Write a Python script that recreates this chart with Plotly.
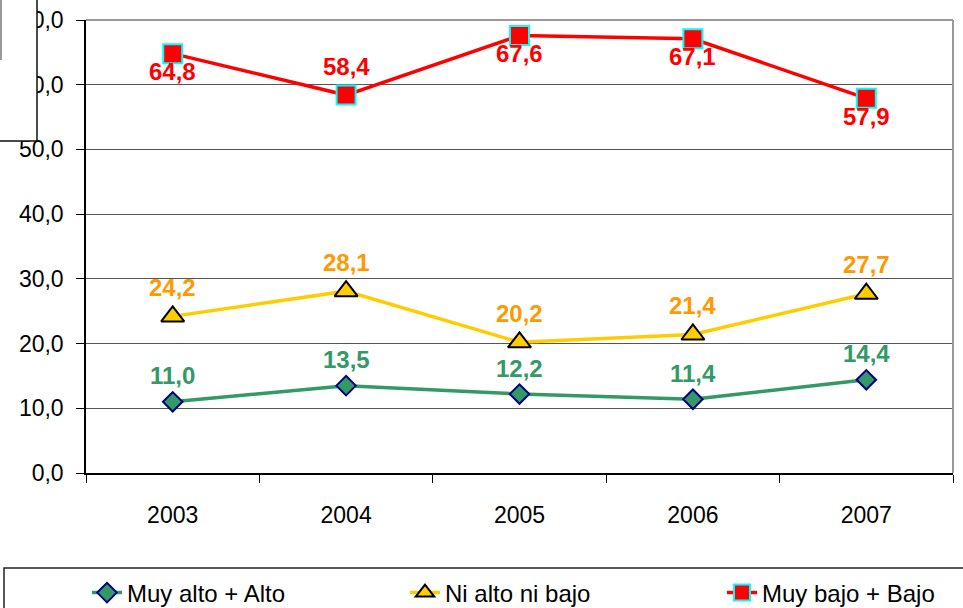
import plotly.graph_objects as go

years = ["2003", "2004", "2005", "2006", "2007"]
muy_alto_alto = [11.0, 13.5, 12.2, 11.4, 14.4]
ni_alto_ni_bajo = [24.2, 28.1, 20.2, 21.4, 27.7]
muy_bajo_bajo = [64.8, 58.4, 67.6, 67.1, 57.9]
red_label_side = ["below", "above", "below", "below", "below"]
y_ticks = [0, 10, 20, 30, 40, 50, 60, 70]
y_ticktext = ["0,0", "10,0", "20,0", "30,0", "40,0", "50,0", "60,0", "70,0"]

FONT = "Liberation Sans, Arial, sans-serif"
GREEN = "#339966"
YELLOW = "#FFCC00"
ORANGE = "#FF9900"
RED = "#FF0000"

L, R, T, B = 86, 10, 20, 135
W, H = 963, 608
pw, ph = W - L - R, H - T - B
def px_x(p):
    return (p - L) / pw
def px_y(p):
    return (H - B - p) / ph

fig = go.Figure()
fig.add_trace(go.Scatter(
    x=years, y=muy_alto_alto, name="Muy alto + Alto", mode="lines+markers",
    line=dict(color=GREEN, width=3.5), legend="legend",
    marker=dict(symbol="diamond", size=15, color=GREEN, line=dict(color="#000080", width=2))))
fig.add_trace(go.Scatter(
    x=years, y=ni_alto_ni_bajo, name="Ni alto ni bajo", mode="lines+markers",
    line=dict(color=YELLOW, width=3.5), legend="legend2",
    marker=dict(symbol="triangle-up", size=20, color=YELLOW, line=dict(color="#000000", width=2))))
fig.add_trace(go.Scatter(
    x=years, y=muy_bajo_bajo, name="Muy bajo + Bajo", mode="lines+markers",
    line=dict(color=RED, width=3.5), legend="legend3",
    marker=dict(symbol="square", size=19, color=RED, line=dict(color="#00FFFF", width=2))))

def fmt(v):
    return f"{v:.1f}".replace(".", ",")

ann = []
for i, v in enumerate(muy_alto_alto):
    ann.append(dict(x=i, y=v, text=fmt(v), showarrow=False, yshift=26,
                    font=dict(family=FONT, size=24, color=GREEN, weight="bold")))
for i, v in enumerate(ni_alto_ni_bajo):
    ann.append(dict(x=i, y=v, text=fmt(v), showarrow=False, yshift=29,
                    font=dict(family=FONT, size=24, color=ORANGE, weight="bold")))
for i, (v, s) in enumerate(zip(muy_bajo_bajo, red_label_side)):
    ann.append(dict(x=i, y=v, text=fmt(v), showarrow=False,
                    yshift=29 if s == "above" else -18,
                    font=dict(family=FONT, size=24, color=RED, weight="bold")))

shapes = [
    dict(type="line", xref="paper", yref="paper", x0=0, x1=1, y0=1, y1=1,
         line=dict(color="#999999", width=2), layer="above"),
    dict(type="line", xref="paper", yref="paper", x0=1, x1=1, y0=0, y1=1,
         line=dict(color="#999999", width=2), layer="above"),
    dict(type="rect", xref="paper", yref="paper", x0=px_x(-20), x1=px_x(37),
         y0=px_y(141), y1=px_y(-20), fillcolor="white",
         line=dict(color="#111111", width=1.5), layer="above"),
    dict(type="line", xref="paper", yref="paper", x0=px_x(1), x1=px_x(1),
         y0=px_y(60), y1=px_y(-5), line=dict(color="#333333", width=1), layer="above"),
    dict(type="rect", xref="paper", yref="paper", x0=px_x(4), x1=px_x(990),
         y0=px_y(640), y1=px_y(568), fillcolor="rgba(0,0,0,0)",
         line=dict(color="#222222", width=1.5), layer="above"),
]

def leg(xpx):
    return dict(orientation="h", x=px_x(xpx), xanchor="left", y=px_y(593), yanchor="middle",
                font=dict(family=FONT, size=24, color="black"),
                bgcolor="rgba(0,0,0,0)", borderwidth=0)

fig.update_layout(
    width=W, height=H,
    margin=dict(l=L, r=R, t=T, b=B, autoexpand=False),
    paper_bgcolor="white", plot_bgcolor="white",
    font=dict(family=FONT, size=22, color="black"),
    showlegend=True,
    legend=leg(87), legend2=leg(405), legend3=leg(722),
    annotations=ann,
    shapes=shapes,
    xaxis=dict(type="category", range=[-0.5, 4.5], showgrid=False,
               showline=True, linecolor="black", linewidth=1.5,
               ticks="outside", tickson="boundaries", ticklen=8, tickcolor="black",
               tickfont=dict(family=FONT, size=23), ticklabelstandoff=21),
    yaxis=dict(range=[0, 70], tickvals=y_ticks, ticktext=y_ticktext,
               showgrid=True, gridcolor="#555555", gridwidth=1,
               showline=True, linecolor="black", linewidth=1.5,
               ticks="outside", ticklen=8, tickcolor="black", zeroline=False,
               tickfont=dict(family=FONT, size=23), ticklabelstandoff=8),
)

fig.write_html("out.html", config={"displayModeBar": False},
               post_script="document.body.style.margin='0';document.body.style.overflow='hidden';")
